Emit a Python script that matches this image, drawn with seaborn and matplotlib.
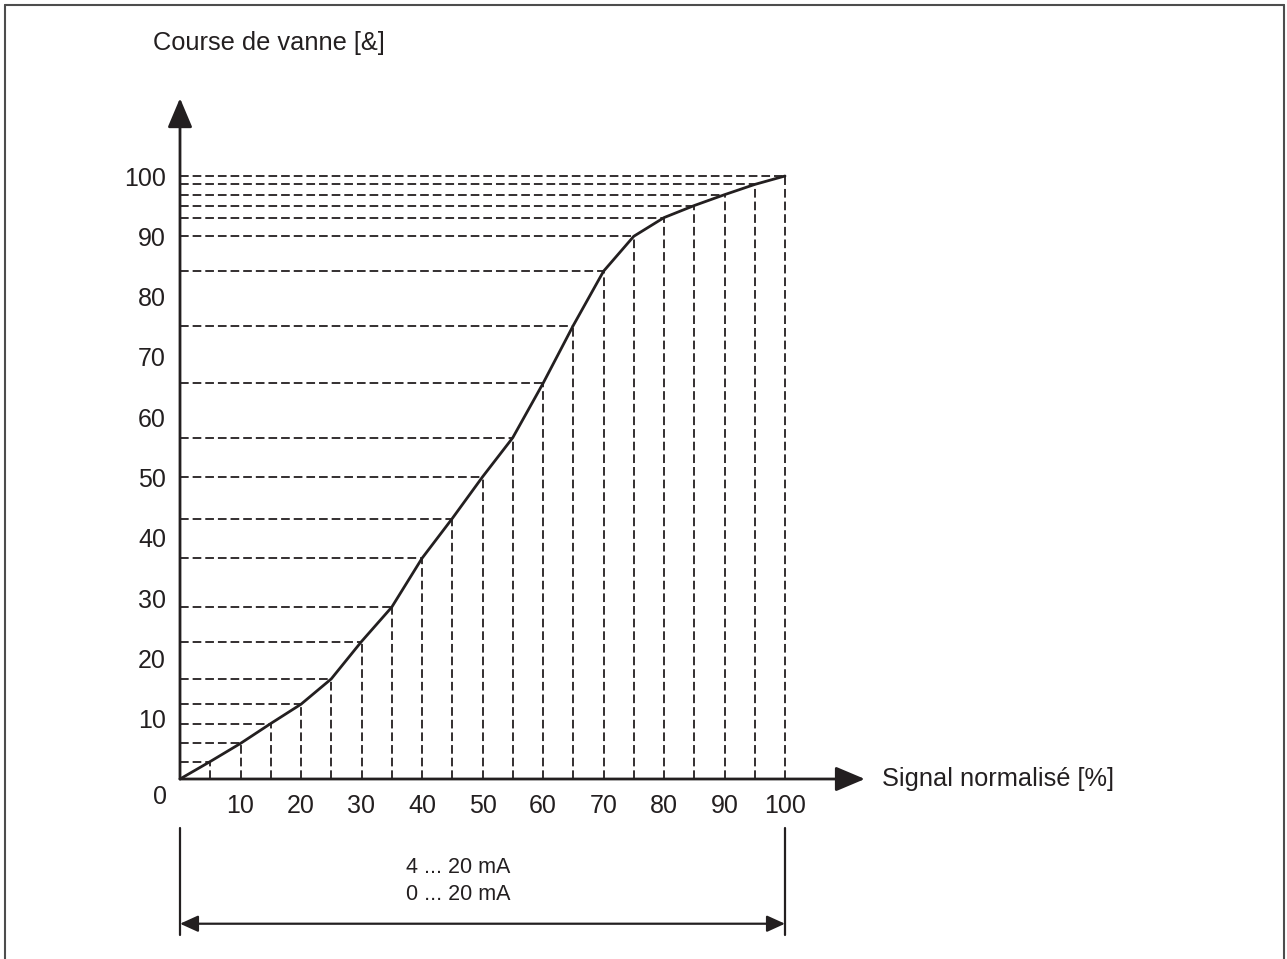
import matplotlib
matplotlib.use('Agg')
import matplotlib.pyplot as plt
import seaborn as sns
import pandas as pd

# valeurs (signal normalisé -> course de vanne)
signal = [0, 5, 10, 15, 20, 25, 30, 35, 40, 45, 50, 55, 60, 65, 70, 75, 80, 85, 90, 95, 100]
course = [0, 2.9, 5.9, 9.2, 12.4, 16.6, 22.8, 28.5, 36.6, 43.2, 50.1, 56.6, 65.6,
          75.2, 84.2, 90.0, 93.1, 95.1, 96.9, 98.6, 100]
tick_labels = ['10', '20', '30', '40', '50', '60', '70', '80', '90', '100']

df = pd.DataFrame({'signal': signal, 'course': course})

sns.set_style('white')
plt.rcParams['font.family'] = ['Liberation Sans', 'DejaVu Sans']

ink = '#231f20'
W, H = 1287, 959
fig = plt.figure(figsize=(W / 100, H / 100), dpi=100)

# axes placées en pixels : 0..100 -> x 180..785, y 779..176
x0, x1, y0, y1 = 180, 785, 779, 176
ax = fig.add_axes([x0 / W, (H - y0) / H, (x1 - x0) / W, (y0 - y1) / H])
ax.set_xlim(0, 100)
ax.set_ylim(0, 100)
for s in ax.spines.values():
    s.set_visible(False)

# lignes de rappel en pointillés
dash = (0, (4.8, 2.2))
for xv, yv in zip(df['signal'], df['course']):
    if xv == 0:
        continue
    ax.plot([0, xv], [yv, yv], color=ink, lw=1.3, linestyle=dash, clip_on=False)
    ax.plot([xv, xv], [0, yv], color=ink, lw=1.3, linestyle=dash, clip_on=False)

sns.lineplot(data=df, x='signal', y='course', ax=ax, color=ink, lw=2.0, clip_on=False)
ax.set_xlabel('')
ax.set_ylabel('')

# graduations
ax.set_xticks([0] + signal[2::2])
ax.set_xticklabels([''] + tick_labels)
ax.set_xticks(signal[1::2], minor=True)
ax.set_yticks([0] + signal[2::2])
ax.set_yticklabels([''] + tick_labels)
ax.set_yticks(signal[1::2], minor=True)
ax.tick_params(which='both', direction='inout', length=10, width=1.4, color=ink)
ax.tick_params(axis='x', which='major', pad=6, labelsize=18, labelcolor=ink)
ax.tick_params(axis='y', which='major', pad=5, labelsize=18, labelcolor=ink)
ax.text(-3.3, -3.0, '0', fontsize=18, color=ink, ha='center', va='center')

# axes fléchés
arrow = dict(arrowstyle='-|>,head_length=0.9,head_width=0.38', color=ink, lw=2.0,
             mutation_scale=20, shrinkA=0, shrinkB=0)
ax.annotate('', xy=(113.2, 0), xytext=(0, 0), arrowprops=arrow, annotation_clip=False)
ax.annotate('', xy=(0, 112.9), xytext=(0, 0), arrowprops=arrow, annotation_clip=False)

ax.text(-4.5, 122, 'Course de vanne [&]', fontsize=18.3, color=ink, ha='left', va='center')
ax.text(116, 0, 'Signal normalisé [%]', fontsize=18.3, color=ink, ha='left', va='center')

# plage du signal sous l'axe
for xv in (0, 100):
    ax.plot([xv, xv], [-8.1, -25.9], color=ink, lw=1.6, clip_on=False)
span = dict(arrowstyle='<|-|>,head_length=0.55,head_width=0.25', color=ink, lw=1.6,
            mutation_scale=20, shrinkA=0, shrinkB=0)
ax.annotate('', xy=(100, -24.0), xytext=(0, -24.0), arrowprops=span, annotation_clip=False)
ax.text(46, -14.6, '4 ... 20 mA', fontsize=15.5, color=ink, ha='center', va='center')
ax.text(46, -19.1, '0 ... 20 mA', fontsize=15.5, color=ink, ha='center', va='center')

# cadre
frame = '#4d4d4d'
fig.add_artist(plt.Line2D([5 / W, 5 / W], [0, 1 - 5 / H], color=frame, lw=1.5))
fig.add_artist(plt.Line2D([5 / W, 1 - 3 / W], [1 - 5 / H, 1 - 5 / H], color=frame, lw=1.5))
fig.add_artist(plt.Line2D([1 - 3 / W, 1 - 3 / W], [0, 1 - 5 / H], color=frame, lw=1.5))

fig.savefig('out.png', dpi=100)
plt.close(fig)
